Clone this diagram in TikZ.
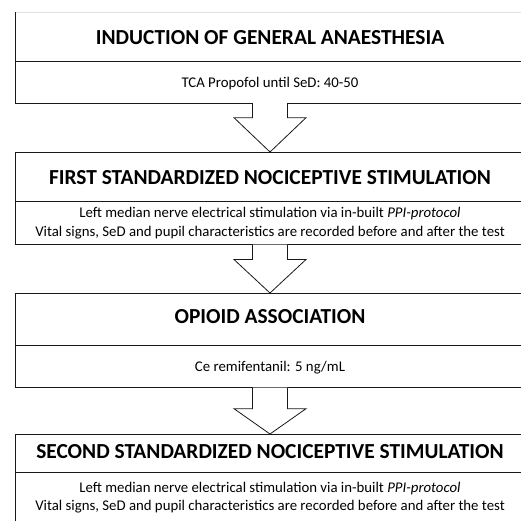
\documentclass[tikz,border=0pt]{standalone}
\usepackage{fontspec}
\setmainfont{Carlito}
\usetikzlibrary{calc}
\begin{document}
\begin{tikzpicture}[x=1pt,y=-1pt,
  frame/.style={draw=black!90,line width=0.9pt,fill=white,rectangle,minimum width=510pt,anchor=north west,inner sep=0pt,outer sep=0pt},
  titletext/.style={font=\bfseries\fontsize{21.4}{25}\selectfont,inner sep=0pt,text depth=0pt},
  bodytext/.style={font=\fontsize{14.8}{18}\selectfont,inner sep=0pt,text depth=0pt},
  arr/.style={draw=black!90,line width=0.8pt,fill=white,line join=miter}]
\useasboundingbox (0,0) rectangle (521,520);
\clip (0,0) rectangle (521,520);
% box 1
\node[frame,minimum height=49pt] (t1) at (15,12) {};
\node[frame,minimum height=42pt] (b1) at (15,61) {};
\draw[black!12,line width=0.9pt] (t1.north west) -- (t1.north east);
\draw[black!90,line width=0.9pt] (t1.north west) -- (b1.south west);
\node[titletext] (t1x) at (270,37) {INDUCTION OF GENERAL ANAESTHESIA};
\node[bodytext] (b1x) at (270,82) {TCA Propofol until SeD: 40-50};
% box 2
\node[frame,minimum height=49.5pt] (t2) at (15,152) {};
\node[frame,minimum height=43pt] (b2) at (15,201.5) {};
\node[titletext] (t2x) at (270,177) {FIRST STANDARDIZED NOCICEPTIVE STIMULATION};
\node[bodytext] (b2x1) at (270,212) {Left median nerve electrical stimulation via in-built \textit{PPI-protocol}};
\node[bodytext] (b2x2) at (270,231.5) {Vital signs, SeD and pupil characteristics are recorded before and after the test};
% box 3
\node[frame,minimum height=52.5pt] (t3) at (15,293) {};
\node[frame,minimum height=42.2pt] (b3) at (15,345.5) {};
\node[titletext] (t3x) at (270,316.7) {OPIOID ASSOCIATION};
\node[bodytext] (b3x) at (270,366.7) {Ce remifentanil: 5 ng/mL};
% box 4
\node[frame,minimum height=38.7pt] (t4) at (15,434) {};
\node[frame,minimum height=60pt] (b4) at (15,472.7) {};
\node[titletext] (t4x) at (270,451) {SECOND STANDARDIZED NOCICEPTIVE STIMULATION};
\node[bodytext] (b4x1) at (270,487) {Left median nerve electrical stimulation via in-built \textit{PPI-protocol}};
\node[bodytext] (b4x2) at (270,505.5) {Vital signs, SeD and pupil characteristics are recorded before and after the test};
% arrows
\draw[arr] ($(b1.south)+(-17.5,0)$) -- ++(0,14.7) -- ++(-18.5,0) -- (t2.north) -- ($(b1.south)+(36,14.7)$) -- ++(-18.5,0) -- ++(0,-14.7);
\draw[arr] ($(b2.south)+(-17.5,0)$) -- ++(0,15) -- ++(-18.5,0) -- (t3.north) -- ($(b2.south)+(36,15)$) -- ++(-18.5,0) -- ++(0,-15);
\draw[arr] ($(b3.south)+(-17.5,0)$) -- ++(0,21) -- ++(-18.5,0) -- (t4.north) -- ($(b3.south)+(36,21)$) -- ++(-18.5,0) -- ++(0,-21);
\end{tikzpicture}
\end{document}
